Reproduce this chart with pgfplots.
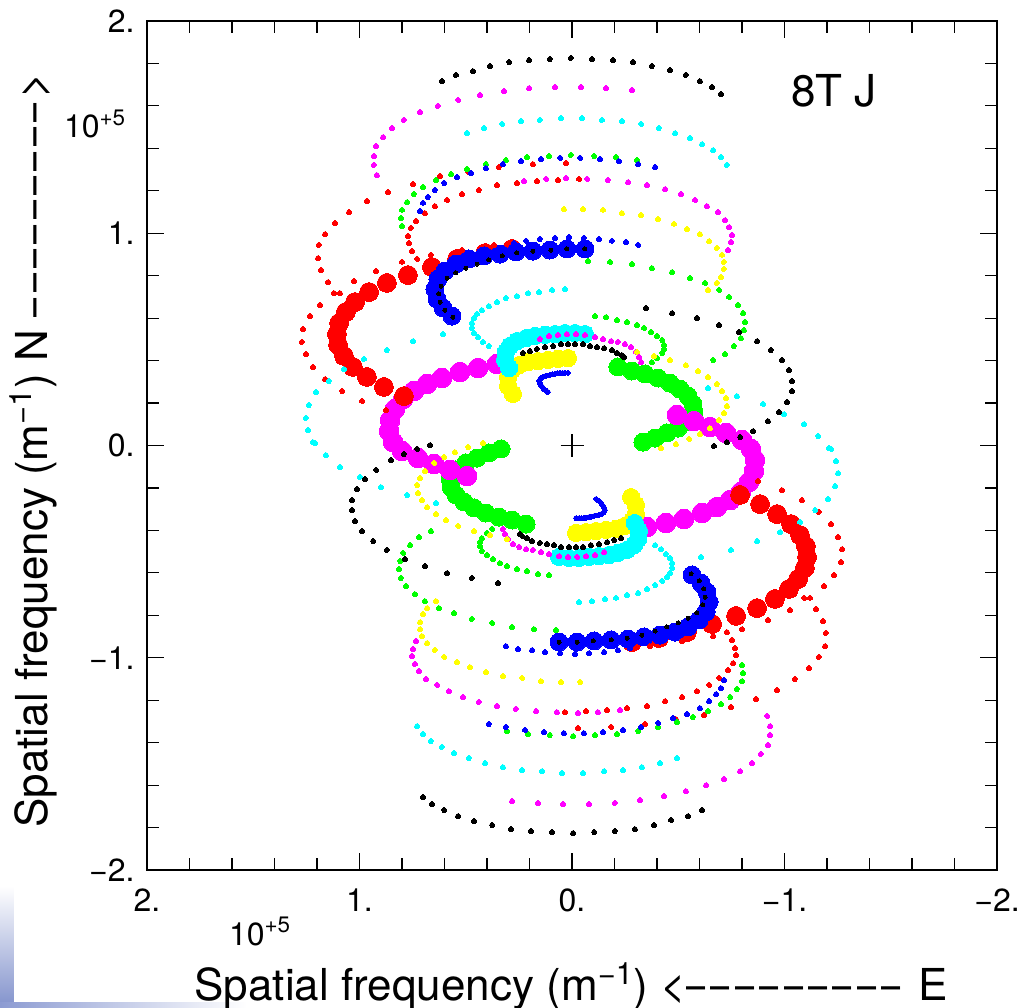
\documentclass[border=0pt]{standalone}
\usepackage{pgfplots}
\pgfplotsset{compat=1.18}
\usepackage{pgfplotstable}
\usepackage{graphicx}
\usepackage{fontspec}
\setmainfont{TeX Gyre Heros}

\definecolor{uvred}{rgb}{1,0,0}
\definecolor{uvgreen}{rgb}{0,1,0}
\definecolor{uvblue}{rgb}{0,0,1}
\definecolor{uvmagenta}{rgb}{1,0,1}
\definecolor{uvcyan}{rgb}{0,1,1}
\definecolor{uvyellow}{rgb}{1,1,0}

% (u,v) samples in units of 1e5 m^-1; each track is drawn with its
% Hermitian counterpart (-u,-v).
\pgfplotstableread{
u v
-0.033 1.256
0.066 1.251
0.165 1.246
0.259 1.237
0.353 1.227
0.438 1.204
0.518 1.185
0.588 1.157
0.645 1.128
0.692 1.095
0.734 1.058
0.758 1.025
0.772 0.987
0.767 0.954
0.753 0.916
0.729 0.879
0.028 1.331
0.184 1.326
0.344 1.312
0.489 1.289
0.621 1.270
0.748 1.232
0.866 1.194
0.965 1.152
1.049 1.100
1.115 1.048
1.162 0.996
1.191 0.945
1.195 0.883
1.181 0.827
1.148 0.770
1.120 0.718
1.092 0.718
1.186 0.662
1.233 0.610
1.266 0.549
1.271 0.488
1.252 0.431
1.219 0.370
1.162 0.313
1.082 0.257
0.988 0.210
0.875 0.167
1.026 0.775
0.922 0.822
0.800 0.865
0.664 0.898
0.518 0.921
0.367 0.945
}\redsmall

\pgfplotstableread{
u v
0.282 0.926
0.409 0.907
0.541 0.879
0.659 0.841
0.772 0.803
0.871 0.766
0.955 0.723
1.021 0.676
1.064 0.629
1.096 0.577
1.106 0.525
1.101 0.474
1.073 0.422
1.031 0.370
0.965 0.323
0.885 0.276
0.791 0.233
}\redbig

\pgfplotstableread{
u v
0.353 0.384
0.442 0.365
0.527 0.346
0.612 0.318
0.682 0.290
0.744 0.257
0.795 0.219
0.833 0.172
0.856 0.120
0.861 0.068
0.842 0.016
0.800 -0.026
0.725 -0.059
0.649 -0.087
0.574 -0.115
0.494 -0.144
}\magbig

\pgfplotstableread{
u v
-0.216 0.370
-0.282 0.351
-0.344 0.337
-0.405 0.318
-0.461 0.294
-0.508 0.266
-0.546 0.233
-0.569 0.196
-0.574 0.158
-0.546 0.115
-0.499 0.082
-0.447 0.059
-0.391 0.035
-0.334 0.016
}\greenbig

\pgfplotstableread{
u v
0.565 0.610
0.607 0.648
0.635 0.690
0.645 0.737
0.631 0.784
0.598 0.822
0.546 0.855
0.485 0.879
0.414 0.893
0.339 0.902
0.264 0.912
0.184 0.916
0.104 0.921
0.024 0.926
-0.061 0.926
}\bluebig

\pgfplotstableread{
u v
0.560 0.605
0.598 0.638
0.621 0.676
0.626 0.714
0.616 0.751
0.588 0.789
0.546 0.813
0.499 0.836
0.447 0.855
0.391 0.874
0.329 0.893
0.259 0.907
0.184 0.916
0.099 0.921
0.024 0.926
-0.061 0.926
}\blackonblue

\pgfplotstableread{
u v
0.296 0.365
0.315 0.403
0.311 0.441
0.292 0.469
0.259 0.492
0.216 0.506
0.174 0.516
0.127 0.521
0.080 0.525
0.033 0.530
-0.014 0.530
-0.061 0.525
}\cyanbig

\pgfplotstableread{
u v
0.278 0.243
0.301 0.280
0.301 0.323
0.282 0.356
0.249 0.379
0.207 0.393
0.160 0.398
0.113 0.403
0.066 0.408
0.019 0.412
}\yellowbig

\pgfplotstableread{
u v
0.113 0.252
0.122 0.259
0.132 0.266
0.140 0.276
0.146 0.285
0.152 0.295
0.155 0.304
0.151 0.311
0.146 0.318
0.137 0.323
0.127 0.327
0.115 0.330
0.104 0.332
0.092 0.335
0.080 0.337
0.068 0.340
0.056 0.342
0.044 0.342
0.033 0.342
0.019 0.342
}\bluearc

\pgfplotstableread{
u v
0.715 1.105
0.701 1.143
0.678 1.171
0.645 1.204
0.602 1.237
0.541 1.265
0.475 1.284
0.405 1.307
0.325 1.326
0.240 1.340
0.146 1.350
0.056 1.355
-0.038 1.355
-0.132 1.350
-0.221 1.340
-0.311 1.326
-0.391 1.312
0.273 0.954
0.216 0.964
0.151 0.973
0.080 0.978
0.014 0.982
-0.056 0.978
-0.127 0.973
-0.188 0.964
-0.254 0.959
-0.311 0.945
}\bluesmall

\pgfplotstableread{
u v
0.800 1.034
0.805 1.072
0.800 1.110
0.776 1.147
0.744 1.185
0.701 1.218
0.640 1.251
0.569 1.279
0.494 1.303
0.405 1.326
0.311 1.345
0.212 1.359
0.108 1.364
0.005 1.369
-0.104 1.364
-0.207 1.359
-0.306 1.345
-0.075 0.869
-0.179 0.865
-0.282 0.855
-0.376 0.836
-0.471 0.817
-0.555 0.789
-0.626 0.766
-0.692 0.733
-0.739 0.700
-0.781 0.662
-0.805 0.624
-0.814 0.582
-0.809 0.544
-0.795 0.506
-0.762 0.469
-0.720 0.431
-0.664 0.403
-0.108 0.610
-0.160 0.605
-0.212 0.591
-0.259 0.582
-0.306 0.568
-0.339 0.554
-0.372 0.535
-0.400 0.516
-0.424 0.497
-0.433 0.474
-0.433 0.455
-0.424 0.436
-0.400 0.412
-0.376 0.393
}\greensmall

\pgfplotstableread{
u v
0.918 1.274
0.932 1.322
0.932 1.364
0.922 1.411
0.889 1.453
0.847 1.496
0.791 1.534
0.715 1.571
0.631 1.600
0.536 1.628
0.433 1.651
0.320 1.670
0.202 1.684
0.080 1.689
-0.042 1.689
-0.160 1.684
-0.282 1.675
0.226 1.246
0.122 1.256
0.028 1.260
-0.071 1.256
-0.169 1.251
-0.264 1.241
-0.353 1.227
-0.438 1.208
-0.513 1.185
-0.579 1.157
-0.635 1.128
-0.687 1.100
-0.720 1.062
-0.739 1.029
-0.753 0.992
-0.748 0.959
-0.734 0.921
0.151 0.502
0.108 0.516
0.066 0.521
0.024 0.525
-0.019 0.525
-0.061 0.521
-0.108 0.511
-0.146 0.502
-0.184 0.492
-0.216 0.488
-0.249 0.478
-0.278 0.464
-0.301 0.441
-0.315 0.417
-0.325 0.393
}\magsmall

\pgfplotstableread{
u v
0.494 1.472
0.414 1.496
0.329 1.515
0.240 1.529
0.151 1.534
0.052 1.543
-0.047 1.543
-0.141 1.534
-0.235 1.529
-0.325 1.515
-0.409 1.496
-0.485 1.472
-0.555 1.449
-0.612 1.420
-0.664 1.392
-0.701 1.359
-0.729 1.322
0.033 0.737
0.094 0.733
0.155 0.723
0.207 0.718
0.259 0.704
0.311 0.695
0.353 0.676
0.391 0.657
0.424 0.638
0.447 0.620
0.461 0.601
0.471 0.577
0.471 0.554
0.461 0.530
0.442 0.511
0.419 0.488
0.391 0.469
0.607 0.525
0.748 0.492
0.871 0.450
0.979 0.408
1.073 0.360
1.144 0.304
1.205 0.252
1.238 0.191
1.252 0.130
1.242 0.073
1.219 0.016
-0.640 0.271
-0.776 0.233
-0.899 0.196
-0.998 0.148
-1.092 0.101
-1.158 0.045
-1.209 -0.012
}\cyansmall

\pgfplotstableread{
u v
0.612 1.717
0.546 1.746
0.466 1.764
0.386 1.788
0.296 1.807
0.202 1.816
0.104 1.821
0.005 1.826
-0.094 1.821
-0.193 1.816
-0.287 1.807
-0.376 1.788
-0.461 1.769
-0.536 1.746
-0.602 1.717
-0.659 1.689
-0.701 1.656
0.231 0.436
0.198 0.445
0.165 0.455
0.127 0.464
0.089 0.469
0.052 0.478
0.019 0.478
-0.014 0.478
-0.052 0.478
-0.085 0.469
-0.118 0.464
-0.151 0.459
-0.188 0.450
-0.212 0.436
-0.235 0.426
-0.245 0.417
-0.348 0.648
-0.471 0.624
-0.588 0.601
-0.692 0.568
-0.786 0.535
-0.871 0.492
-0.936 0.450
-0.988 0.403
-1.021 0.356
-1.035 0.304
-1.035 0.257
-1.012 0.205
-0.974 0.158
-0.922 0.115
-0.852 0.068
-0.791 0.040
-0.729 0.016
-0.668 -0.002
}\blacksmall

\pgfplotstableread{
u v
0.038 1.114
-0.052 1.114
-0.146 1.110
-0.235 1.095
-0.325 1.086
-0.405 1.067
-0.480 1.044
-0.541 1.020
-0.602 0.996
-0.645 0.963
-0.682 0.931
-0.706 0.898
-0.715 0.865
-0.715 0.832
-0.701 0.794
-0.682 0.766
-0.640 0.733
-0.306 0.441
-0.386 0.422
-0.461 0.403
-0.536 0.379
-0.593 0.351
-0.640 0.323
-0.682 0.290
-0.706 0.257
-0.725 0.224
-0.729 0.186
-0.715 0.153
-0.692 0.120
-0.649 0.082
-0.602 0.054
-0.551 0.031
-0.489 0.007
-0.419 -0.012
}\yellowsmall

% a track and its conjugate
\newcommand{\uvtrack}[3]{%
  \addplot[only marks, mark=*, mark size=#2, color=#1,
    mark options={solid, line width=0pt}] table {#3};
  \addplot[only marks, mark=*, mark size=#2, color=#1,
    mark options={solid, line width=0pt}]
    table[x expr=-\thisrow{u}, y expr=-\thisrow{v}] {#3};
}

% broken arrow shaft used in the axis titles
\newcommand{\dsh}{\scalebox{0.78}[1]{\textendash}\kern0.12em}
\newcommand{\dashes}{\dsh\dsh\dsh\dsh\dsh\dsh\dsh\dsh\dsh}

\begin{document}
\begin{tikzpicture}
\shade[top color=white, bottom color={rgb,255:red,130;green,146;blue,204}]
  (-73.5pt,-68.5pt) rectangle (-66.5pt,-8pt);
\shade[left color={rgb,255:red,140;green,155;blue,210}, right color=white]
  (-73.5pt,-68.5pt) rectangle (50pt,-66pt);
\begin{axis}[
  at={(0,0)}, anchor=south west,
  scale only axis, width=425pt, height=424.5pt,
  xmin=-2, xmax=2, ymin=-2, ymax=2, x dir=reverse,
  xtick={-2,-1,0,1,2}, ytick={-2,-1,0,1,2},
  xticklabels={−2.,−1.,0.,1.,2.},
  yticklabels={−2.,−1.,0.,1.,2.},
  minor tick num=4,
  tick align=inside, tick pos=both,
  major tick length=8.5pt, minor tick length=6pt,
  every tick/.style={black, line width=0.6pt},
  axis line style={line width=0.6pt},
  ticklabel style={font=\fontsize{16}{16}\selectfont},
  xticklabel style={anchor=north, inner sep=0pt, yshift=-9pt},
  yticklabel style={anchor=east, inner sep=0pt, xshift=-6pt},
]
% wide-aperture tracks
\uvtrack{uvgreen}{4.5pt}{\greenbig}
\uvtrack{uvmagenta}{4.9pt}{\magbig}
\uvtrack{uvred}{4.7pt}{\redbig}
\uvtrack{uvblue}{4.5pt}{\bluebig}
\uvtrack{uvyellow}{4.3pt}{\yellowbig}
\uvtrack{uvcyan}{4.3pt}{\cyanbig}
% narrow-aperture tracks
\uvtrack{uvred}{1.25pt}{\redsmall}
\uvtrack{uvgreen}{1.25pt}{\greensmall}
\uvtrack{uvblue}{1.25pt}{\bluesmall}
\uvtrack{uvmagenta}{1.25pt}{\magsmall}
\uvtrack{uvcyan}{1.25pt}{\cyansmall}
\uvtrack{uvyellow}{1.25pt}{\yellowsmall}
\uvtrack{black}{1.25pt}{\blacksmall}
\uvtrack{black}{1.0pt}{\blackonblue}
\uvtrack{uvblue}{1.2pt}{\bluearc}
% phase centre
\addplot[only marks, mark=+, mark size=5.75pt, black,
  mark options={line width=0.7pt}] coordinates {(0,0)};
\end{axis}
\node[anchor=base west, font=\fontsize{22}{22}\selectfont] at (318.5pt,381.5pt) {8T J};
\node[anchor=base west, font=\fontsize{16}{16}\selectfont] at (-45pt,366pt) {10\textsuperscript{+5}};
\node[anchor=base west, font=\fontsize{16}{16}\selectfont] at (37.5pt,-37.5pt) {10\textsuperscript{+5}};
\node[anchor=base, font=\fontsize{22}{22}\selectfont, inner sep=0pt] at (212pt,-65pt)
  {Spatial frequency (m\textsuperscript{−1}) <\dashes\ E};
\node[anchor=base, rotate=90, font=\fontsize{22}{22}\selectfont, inner sep=0pt] at (-50pt,210pt)
  {Spatial frequency (m\textsuperscript{−1}) N \dashes>};
\pgfresetboundingbox
\useasboundingbox (-73.5pt,-68.5pt) rectangle (436.5pt,435pt);
\end{tikzpicture}
\end{document}
